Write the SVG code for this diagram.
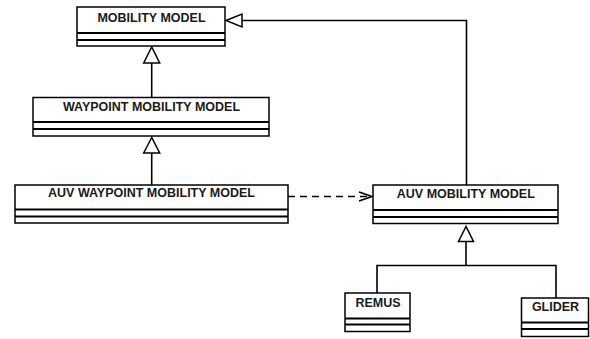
<svg xmlns="http://www.w3.org/2000/svg" width="590" height="339" viewBox="0 0 590 339">
<style>
.box{fill:#fff;stroke:#000;stroke-width:1.5}
.div{stroke:#000;stroke-width:2}
.t{font-family:"Liberation Sans",Arial,sans-serif;font-weight:bold;font-size:12.5px;text-anchor:middle;fill:#1a1a1a}
.ln{fill:none;stroke:#000;stroke-width:1.6}
.tri{fill:#fff;stroke:#000;stroke-width:1.5}
</style>
<rect width="590" height="339" fill="#fff"/>
<g id="connectors">
<path class="ln" d="M242,20.5 H466.5 V185"/>
<polygon class="tri" points="226,20.5 242,14 242,27"/>
<path class="ln" d="M151.7,63 V97.5"/>
<polygon class="tri" points="151.7,47 143.7,63 159.7,63"/>
<path class="ln" d="M151.7,153 V185"/>
<polygon class="tri" points="151.7,137.5 143.7,153 159.7,153"/>
<path class="ln" d="M288,196.5 H371" stroke-dasharray="7,5"/>
<path class="ln" d="M359,192 L372,196.5 L359,201"/>
<path class="ln" d="M466,241.5 V265.5 M377,293 V265.5 H556 V298"/>
<polygon class="tri" points="466,226.5 458.5,241.5 473.5,241.5"/>
</g>
<g id="mobility-model">
<rect class="box" x="77" y="7" width="148" height="39"/>
<line class="div" x1="77" y1="33" x2="225" y2="33"/>
<line class="div" x1="77" y1="40" x2="225" y2="40"/>
<text class="t" x="151.5" y="22.3">MOBILITY MODEL</text>
</g>
<g id="waypoint-mobility-model">
<rect class="box" x="33" y="97.5" width="236" height="38.5"/>
<line class="div" x1="33" y1="122" x2="269" y2="122"/>
<line class="div" x1="33" y1="129" x2="269" y2="129"/>
<text class="t" x="151.5" y="111">WAYPOINT MOBILITY MODEL</text>
</g>
<g id="auv-waypoint-mobility-model">
<rect class="box" x="15" y="185" width="273" height="38"/>
<line class="div" x1="15" y1="209.5" x2="288" y2="209.5"/>
<line class="div" x1="15" y1="216.5" x2="288" y2="216.5"/>
<text class="t" x="151.5" y="197.3">AUV WAYPOINT MOBILITY MODEL</text>
</g>
<g id="auv-mobility-model">
<rect class="box" x="373" y="185" width="185" height="38.5"/>
<line class="div" x1="373" y1="210" x2="558" y2="210"/>
<line class="div" x1="373" y1="217" x2="558" y2="217"/>
<text class="t" x="465.8" y="198.3">AUV MOBILITY MODEL</text>
</g>
<g id="remus">
<rect class="box" x="345" y="293" width="65" height="38.5"/>
<line class="div" x1="345" y1="318.5" x2="410" y2="318.5"/>
<line class="div" x1="345" y1="324.5" x2="410" y2="324.5"/>
<text class="t" x="378" y="306.7">REMUS</text>
</g>
<g id="glider">
<rect class="box" x="521.5" y="298" width="67" height="38.5"/>
<line class="div" x1="521.5" y1="322.5" x2="588.5" y2="322.5"/>
<line class="div" x1="521.5" y1="329" x2="588.5" y2="329"/>
<text class="t" x="555.5" y="311">GLIDER</text>
</g>
</svg>
